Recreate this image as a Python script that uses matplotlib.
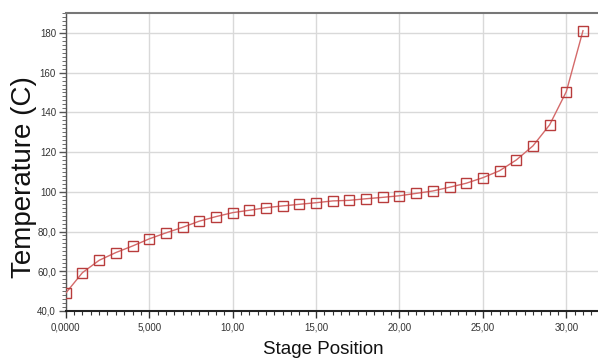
import matplotlib
matplotlib.use("Agg")
import matplotlib.pyplot as plt
from matplotlib.ticker import MultipleLocator

stage = list(range(32))
temperature = [49.0, 59.3, 65.5, 69.4, 72.7, 76.3, 79.3, 82.1, 85.2, 87.5,
               89.5, 90.7, 92.0, 92.9, 93.7, 94.5, 95.4, 95.7, 96.5, 97.2,
               98.0, 99.2, 100.4, 102.3, 104.3, 107.1, 110.6, 116.0, 123.1,
               133.7, 150.4, 181.1]
xticks = [0, 5, 10, 15, 20, 25, 30]
xticklabels = ["0,0000", "5,000", "10,00", "15,00", "20,00", "25,00", "30,00"]
yticks = [40, 60, 80, 100, 120, 140, 160, 180]
yticklabels = ["40,0", "60,0", "80,0", "100", "120", "140", "160", "180"]

font = "Liberation Sans"

fig = plt.figure(figsize=(5.98, 3.62), dpi=100)
ax = fig.add_axes([0.110, 0.141, 0.89, 0.823])
ax.plot(stage, temperature, color="#d46a6a", lw=1.0, marker="s", ms=6.5,
        mfc="none", mec="#b83c3c", mew=1.0, zorder=3)
ax.set_xlim(0, 31.9)
ax.set_ylim(40, 190)
ax.set_xticks(xticks)
ax.set_xticklabels(xticklabels, fontfamily=font, fontsize=7, color="#333333")
ax.set_yticks(yticks)
ax.set_yticklabels(yticklabels, fontfamily=font, fontsize=7, color="#333333")
ax.xaxis.set_minor_locator(MultipleLocator(0.5))
ax.yaxis.set_minor_locator(MultipleLocator(2))
ax.grid(True, which="major", color="#d9d9d9", lw=1.0)
ax.set_axisbelow(True)
ax.tick_params(axis="x", which="major", length=5, width=1, direction="out",
               color="#333333", pad=3)
ax.tick_params(axis="x", which="minor", length=3, width=0.8, direction="out", color="#333333")
ax.tick_params(axis="y", which="major", length=5, width=1, direction="out",
               color="#555555", pad=2)
ax.tick_params(axis="y", which="minor", length=3, width=0.6, direction="out", color="#555555")
ax.spines["right"].set_visible(False)
ax.spines["top"].set_color("#777777")
ax.spines["top"].set_linewidth(1.5)
ax.spines["bottom"].set_color("#222222")
ax.spines["bottom"].set_linewidth(1.5)
ax.spines["left"].set_color("#555555")
ax.spines["left"].set_linewidth(1.0)

fig.text(24 / 598, 1 - 177 / 362, "Temperature (C)", rotation=90, ha="center",
         va="center", fontfamily=font, fontsize=20, color="#111111")
fig.text(323 / 598, 1 - 350 / 362, "Stage Position", ha="center", va="center",
         fontfamily=font, fontsize=13.5, color="#111111")
fig.savefig("out.png", dpi=100)
